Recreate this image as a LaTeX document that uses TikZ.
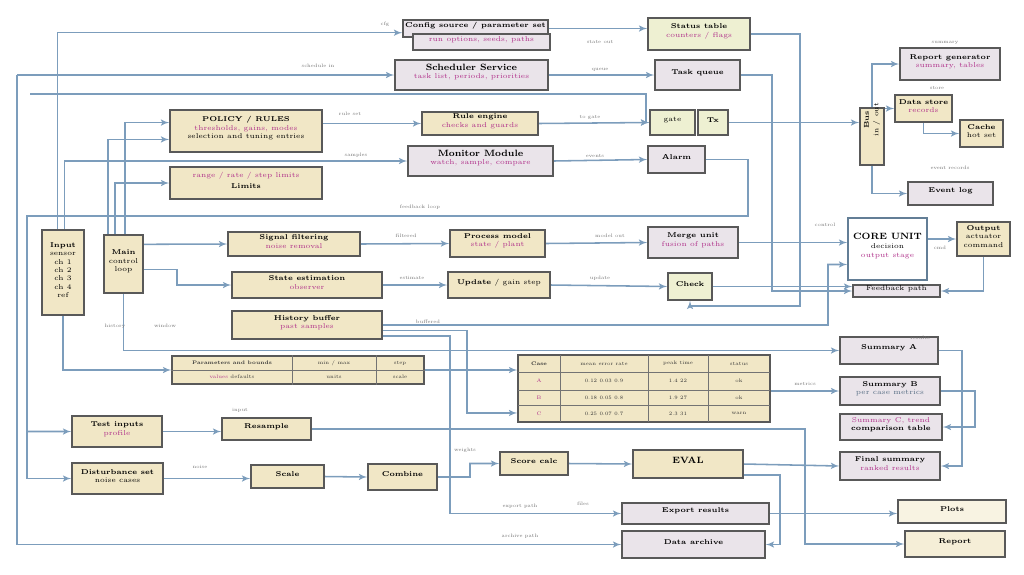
\documentclass[tikz,border=0pt]{standalone}
\usetikzlibrary{shapes,arrows,calc,fit,backgrounds}
\definecolor{cream}{HTML}{F1E7C6}
\definecolor{lav}{HTML}{EAE4EA}
\definecolor{pale}{HTML}{EEF0D2}
\definecolor{wire}{HTML}{7C9DBC}
\definecolor{note}{HTML}{B0308A}
\tikzstyle{block} = [rectangle, draw=black!65, line width=0.9pt, fill=cream,
    inner sep=0pt, align=center, font=\fontsize{5}{6}\selectfont]
\tikzstyle{soft} = [block, fill=lav]
\tikzstyle{cell} = [font=\fontsize{3.6}{4.2}\selectfont, align=center, text=black!80]
\tikzstyle{line} = [draw=wire, line width=1.1pt, -latex']
\tikzstyle{tag} = [font=\fontsize{3.5}{4}\selectfont, text=black!55]
\newcommand{\twol}[2]{\textbf{#1}\\\textcolor{note}{#2}}
\newcommand{\hfont}{\fontsize{6.5}{7.5}\selectfont}

\begin{document}
\begin{tikzpicture}[x=0.025cm, y=-0.025cm]
    \useasboundingbox (0,0) rectangle (1024,574);
    % Place nodes
    \node [soft, fit={(403,20) (548,37)}] (cfgA) {\textbf{Config source / parameter set}};
    \node [soft, fit={(413,34) (550,50)}] (cfgB) {\textcolor{note}{run options, seeds, paths}};
    \node [block, fill=pale, fit={(648,18) (750,50)}] (stat) {\twol{Status table}{counters / flags}};
    \node [soft, fit={(395,60) (548,90)}] (sched) {\twol{\hfont Scheduler Service}{task list, periods, priorities}};
    \node [soft, fit={(655,60) (740,90)}] (queue) {\textbf{Task queue}};
    \node [block, fit={(170,110) (322,152)}] (policy) {\textbf{POLICY / RULES}\\\textcolor{note}{thresholds, gains, modes}\\selection and tuning entries};
    \node [block, fit={(422,112) (538,135)}] (rules) {\twol{Rule engine}{checks and guards}};
    \node [block, fill=pale, fit={(650,110) (695,135)}] (gateA) {gate};
    \node [block, fill=pale, fit={(698,110) (728,135)}] (gateB) {\textbf{Tx}};
    \node [soft, fit={(408,146) (553,176)}] (monitor) {\twol{\hfont Monitor Module}{watch, sample, compare}};
    \node [soft, fit={(648,146) (705,173)}] (alarm) {\textbf{Alarm}};
    \node [block, fit={(170,167) (322,199)}] (limits) {\textcolor{note}{range / rate / step limits}\\[2pt]\textbf{Limits}};
    % right top
    \node [soft, fit={(900,48) (1000,80)}] (report) {\twol{Report generator}{summary, tables}};
    \node [block, fit={(895,95) (952,122)}] (store) {\twol{Data store}{records}};
    \node [block, fit={(960,120) (1003,147)}] (cache) {\textbf{Cache}\\hot set};
    \node [block, fit={(860,108) (884,165)}] (bus) {\rotatebox{90}{\shortstack{\textbf{Bus}\\in / out}}};
    \node [soft, fit={(908,182) (993,205)}] (log) {\textbf{Event log}};
    % middle
    \node [block, fit={(42,230) (84,315)}] (input) {\textbf{Input}\\sensor\\ch 1\\ch 2\\ch 3\\ch 4\\ref};
    \node [block, fit={(104,235) (143,293)}] (ctrl) {\textbf{Main}\\control\\loop};
    \node [block, fit={(228,232) (360,256)}] (filter) {\twol{Signal filtering}{noise removal}};
    \node [block, fit={(450,230) (545,257)}] (model) {\twol{Process model}{state / plant}};
    \node [soft, fit={(648,227) (738,258)}] (merge) {\twol{Merge unit}{fusion of paths}};
    \node [block, fill=white, draw=wire!80!black, fit={(848,218) (927,280)}] (core) {\textbf{\hfont CORE UNIT}\\[1pt]decision\\\textcolor{note}{output stage}};
    \node [block, fit={(957,222) (1010,256)}] (output) {\textbf{Output}\\actuator\\command};
    \node [soft, fit={(853,285) (940,297)}] (feedback) {Feedback path};
    \node [block, fit={(232,272) (382,298)}] (estim) {\twol{State estimation}{observer}};
    \node [block, fit={(448,272) (550,298)}] (update) {\textbf{Update} / gain step};
    \node [block, fill=pale, fit={(668,273) (712,300)}] (check) {\textbf{Check}};
    \node [block, fit={(232,311) (382,339)}] (buffer) {\twol{History buffer}{past samples}};
    % parameter table
    \node [block, fit={(172,356) (424,384)}] (param) {};
    \draw [black!55, line width=0.6pt] (param.north -| 292,0) -- (param.south -| 292,0)
        (param.north -| 376,0) -- (param.south -| 376,0) (param.west) -- (param.east);
    \node [cell] (p1) at (232,363) {\textbf{Parameters and bounds}};
    \node [cell] (p2) at (334,363) {min / max};
    \node [cell] (p3) at (400,363) {step};
    \node [cell] (p4) at (232,377) {\textcolor{note}{values}  defaults};
    \node [cell] (p5) at (334,377) {units};
    \node [cell] (p6) at (400,377) {scale};
    % result matrix
    \node [block, fit={(518,355) (770,422)}] (matrix) {};
    \draw [black!55, line width=0.6pt] (560,355) -- (560,422) (648,355) -- (648,422) (708,355) -- (708,422)
        (518,372) -- (770,372) (518,390) -- (770,390) (518,405) -- (770,405);
    \node [cell] (m1) at (539,363.5) {\textbf{Case}};
    \node [cell] (m2) at (604,363.5) {mean  error  rate};
    \node [cell] (m3) at (678,363.5) {peak  time};
    \node [cell] (m4) at (739,363.5) {status};
    \node [cell] (m5) at (539,381) {\textcolor{note}{A}};
    \node [cell] (m6) at (604,381) {0.12  0.03  0.9};
    \node [cell] (m7) at (678,381) {1.4  22};
    \node [cell] (m8) at (739,381) {ok};
    \node [cell] (m9) at (539,397.5) {\textcolor{note}{B}};
    \node [cell] (m10) at (604,397.5) {0.18  0.05  0.8};
    \node [cell] (m11) at (678,397.5) {1.9  27};
    \node [cell] (m12) at (739,397.5) {ok};
    \node [cell] (m13) at (539,413.5) {\textcolor{note}{C}};
    \node [cell] (m14) at (604,413.5) {0.25  0.07  0.7};
    \node [cell] (m15) at (678,413.5) {2.3  31};
    \node [cell] (m16) at (739,413.5) {warn};
    % right lower
    \node [soft, fit={(840,337) (938,364)}] (sumA) {\textbf{Summary A}};
    \node [soft, fit={(840,377) (940,405)}] (sumB) {\textbf{Summary B}\\\textcolor{wire!70!black}{per case metrics}};
    \node [soft, fit={(840,414) (942,440)}] (sumC) {\textcolor{note}{Summary C, trend}\\\textbf{comparison table}};
    \node [soft, fit={(840,452) (940,480)}] (sumD) {\textbf{Final summary}\\\textcolor{note}{ranked results}};
    \node [block, fit={(633,450) (743,478)}] (eval) {\textbf{\hfont EVAL}};
    \node [block, fit={(500,452) (568,475)}] (score) {\textbf{Score calc}};
    \node [soft, fit={(622,503) (769,524)}] (export) {\textbf{Export results}};
    \node [soft, fit={(622,531) (765,558)}] (archive) {\textbf{Data archive}};
    \node [block, fill=cream!50, fit={(898,500) (1006,523)}] (sinkA) {\textbf{Plots}};
    \node [block, fill=cream!70, fit={(905,531) (1005,557)}] (sinkB) {\textbf{Report}};
    % bottom left
    \node [block, fit={(72,416) (162,447)}] (srcA) {\twol{Test inputs}{profile}};
    \node [block, fit={(72,463) (163,494)}] (srcB) {\textbf{Disturbance set}\\noise cases};
    \node [block, fit={(222,418) (311,440)}] (prepA) {\textbf{Resample}};
    \node [block, fit={(251,465) (324,488)}] (prepB) {\textbf{Scale}};
    \node [block, fit={(368,464) (437,490)}] (join) {\textbf{Combine}};
    \coordinate (railW) at (17,75);
    \coordinate (railN) at (30,94);
    \coordinate (tap) at (27,431.5);
    % Draw edges
    \begin{scope}[on background layer]
    \path [line] ([xshift=-4pt]input.north) |- ([yshift=-3pt]cfgA.west);
    \path [line] (railW) -- (sched.west);
    \path [line] (railW) |- (archive.west);
    \path [line] (railN) -- (646,94) |- (gateA.west);
    \path [line] ([xshift=1pt]input.north) |- (monitor.west);
    \path [line] ([xshift=1pt]ctrl.north) |- ([yshift=6pt]policy.west);
    \path [line] ([xshift=-11pt]ctrl.north) |- ([yshift=-6pt]policy.west);
    \path [line] ([xshift=-6pt]ctrl.north) |- (limits.west);
    \path [line] (alarm.east) -| (748,216) -| (27,300) |- (srcB.west);
    \path [line] (tap) -- (srcA.west);
    \path [line] (cfgA.east) -- (stat.west |- cfgA.east);
    \path [line] (sched.east) -- (queue.west);
    \path [line] (policy.east |- rules.west) -- (rules.west);
    \path [line] (rules.east) -- (gateA.west);
    \path [line] (monitor.east) -- (alarm.west);
    \path [line] (gateB.east) -- (bus.west |- gateB.east);
    \path [line] (bus.north) |- (report.west);
    \path [line] (bus.east |- store.west) -- (store.west);
    \path [line] (store.south) |- (cache.west);
    \path [line] (bus.south) |- (log.west);
    \path [line] ([yshift=14pt]ctrl.east) -- (filter.west);
    \path [line] ([yshift=-4pt]ctrl.east) -| (177,280) |- (estim.west);
    \path [line] (ctrl.south) |- (sumA.west);
    \path [line] (input.south) |- (param.west);
    \path [line] (filter.east) -- (model.west);
    \path [line] (model.east) -- (merge.west);
    \path [line] (merge.east) -- (core.west |- merge.east);
    \path [line] (core.east |- output.west) -- (output.west);
    \path [line] (output.south) |- (feedback.east);
    \path [line] (estim.east) -- (update.west);
    \path [line] (update.east) -- (check.west);
    \path [line] (check.east) -- (feedback.west |- check.east);
    \path [line] (queue.east) -| (772,291) -- (feedback.west);
    \path [line] (stat.east) -| (800,306) -| (check.south);
    \path [line] (buffer.east) -| (828,264.5) -- ([yshift=-11pt]core.west);
    \path [line] ([yshift=-4pt]buffer.east) -| (467,400) |- ([yshift=-17.4pt]matrix.west);
    \path [line] ([yshift=-8pt]buffer.east) -| (450,400) |- (export.west);
    \path [line] (param.east) -- (matrix.west |- param.east);
    \path [line] (matrix.east |- sumB.west) -- (sumB.west);
    \path [line] (eval.east) -- (sumD.west);
    \path [line] (score.east) -- (eval.west);
    \path [line] (join.east) -| (470,463.5) -- (score.west);
    \path [line] (prepB.east) -- (join.west);
    \path [line] (srcB.east) -- (prepB.west |- srcB.east);
    \path [line] (srcA.east) -- (prepA.west |- srcA.east);
    \path [line] (prepA.east) -| (805,500) |- (sinkB.west);
    \path [line] (export.east) -- (sinkA.west |- export.east);
    \path [line] ([yshift=-8pt]eval.east) -| (780,520) |- (archive.east);
    \path [line] (sumA.east) -| (962,420) |- (sumD.east);
    \path [line] (sumB.east) -| (975,420) |- (sumC.east);
    \end{scope}
    % Labels on edges
    \node [tag] (t1) at (385,24) {cfg};
    \node [tag] (t2) at (318,66) {schedule in};
    \node [tag] (t3) at (600,70) {queue};
    \node [tag] (t4) at (600,42) {state out};
    \node [tag] (t5) at (350,114) {rule set};
    \node [tag] (t6) at (590,117) {to gate};
    \node [tag] (t7) at (356,155) {samples};
    \node [tag] (t8) at (595,156) {events};
    \node [tag] (t9) at (420,207) {feedback loop};
    \node [tag] (t10) at (406,236) {filtered};
    \node [tag] (t11) at (610,236) {model out};
    \node [tag] (t12) at (412,278) {estimate};
    \node [tag] (t13) at (600,278) {update};
    \node [tag] (t14) at (945,43) {summary};
    \node [tag] (t15) at (937,88) {store};
    \node [tag] (t16) at (950,168) {event records};
    \node [tag] (t17) at (825,225) {control};
    \node [tag] (t18) at (940,248) {cmd};
    \node [tag] (t19) at (115,326) {history};
    \node [tag] (t20) at (165,326) {window};
    \node [tag] (t21) at (428,322) {buffered};
    \node [tag] (t22) at (920,338) {results};
    \node [tag] (t23) at (805,384) {metrics};
    \node [tag] (t24) at (240,410) {input};
    \node [tag] (t25) at (200,467) {noise};
    \node [tag] (t26) at (465,450) {weights};
    \node [tag] (t27) at (520,506) {export path};
    \node [tag] (t28) at (520,536) {archive path};
    \node [tag] (t29) at (583,504) {files};
\end{tikzpicture}
\end{document}
